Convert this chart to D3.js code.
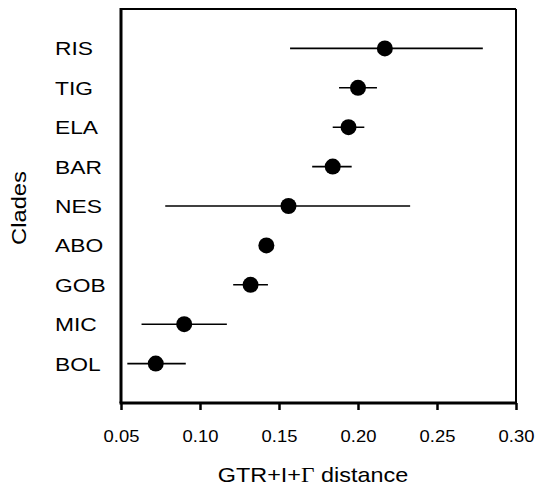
<!DOCTYPE html>
<html>
<head>
<meta charset="utf-8">
<script src="https://cdn.jsdelivr.net/npm/d3@7"></script>
<style>
  html, body { margin: 0; padding: 0; background: #fff; }
  svg { display: block; font-family: "Liberation Sans", Arial, Helvetica, sans-serif; }
</style>
</head>
<body>
<svg id="chart" width="538" height="488"></svg>
<script>
const clades = ["RIS", "TIG", "ELA", "BAR", "NES", "ABO", "GOB", "MIC", "BOL"];
const distance = [0.217, 0.200, 0.194, 0.184, 0.156, 0.142, 0.132, 0.090, 0.072];
const lower = [0.157, 0.188, 0.184, 0.171, 0.078, 0.142, 0.121, 0.063, 0.054];
const upper = [0.279, 0.212, 0.204, 0.196, 0.233, 0.142, 0.143, 0.117, 0.091];
const xTicks = [0.05, 0.10, 0.15, 0.20, 0.25, 0.30];
const xLabelMain = "GTR+I+";
const xLabelGamma = "\u0393";
const xLabelRest = " distance";
const yLabel = "Clades";

const svg = d3.select("#chart");
const L = 121, R = 516, T = 9, B = 403;

const x = d3.scaleLinear().domain([0.05, 0.30]).range([L, R]);
const y = d3.scalePoint().domain(clades).range([T, B]).padding(1);

// frame
svg.append("line").attr("x1", L).attr("x2", R).attr("y1", T).attr("y2", T)
  .attr("stroke", "#000").attr("stroke-width", 2);
svg.append("line").attr("x1", R).attr("x2", R).attr("y1", T).attr("y2", B)
  .attr("stroke", "#000").attr("stroke-width", 2);

// bottom axis
const xAxis = d3.axisBottom(x).tickValues(xTicks).tickFormat(d3.format(".2f"))
  .tickSizeInner(7).tickSizeOuter(0).tickPadding(20);
const gx = svg.append("g").attr("transform", `translate(0,${B})`).call(xAxis);
gx.select(".domain").attr("stroke-width", 3).attr("d", `M${L - 1.5},0H${R + 1}`);
gx.selectAll(".tick line").attr("stroke-width", 2.5);
gx.selectAll(".tick text").attr("font-size", 16.3).attr("fill", "#000")
  .attr("font-family", "Liberation Sans, Arial, sans-serif")
  .attr("transform", "scale(1.13,1)");

// left axis line (no ticks)
const yAxis = d3.axisLeft(y).tickSize(0).tickFormat("");
const gy = svg.append("g").attr("transform", `translate(${L},0)`).call(yAxis);
gy.select(".domain").attr("stroke-width", 3).attr("d", `M0,${T - 1}V${B}`);

// category labels
svg.append("g").selectAll("text").data(clades).join("text")
  .attr("transform", d => `translate(55,${y(d) + 7}) scale(1.2,1)`)
  .attr("font-size", 19)
  .attr("fill", "#000")
  .text(d => d);

// error bars
svg.append("g").selectAll("line").data(clades).join("line")
  .attr("x1", (d, i) => x(lower[i]))
  .attr("x2", (d, i) => x(upper[i]))
  .attr("y1", d => y(d)).attr("y2", d => y(d))
  .attr("stroke", "#000").attr("stroke-width", 1.6);

// points
svg.append("g").selectAll("circle").data(clades).join("circle")
  .attr("cx", (d, i) => x(distance[i]))
  .attr("cy", d => y(d))
  .attr("r", 8)
  .attr("fill", "#000");

// axis titles
const xt = svg.append("text")
  .attr("transform", `translate(313,482) scale(1.17,1)`)
  .attr("text-anchor", "middle")
  .attr("font-size", 20)
  .attr("fill", "#000");
xt.append("tspan").text(xLabelMain);
xt.append("tspan").attr("font-family", "Liberation Serif, Times New Roman, serif").text(xLabelGamma);
xt.append("tspan").text(xLabelRest);

svg.append("text")
  .attr("transform", `translate(26,208) rotate(-90) scale(1.13,1)`)
  .attr("text-anchor", "middle")
  .attr("font-size", 21)
  .attr("fill", "#000")
  .text(yLabel);
</script>
</body>
</html>
